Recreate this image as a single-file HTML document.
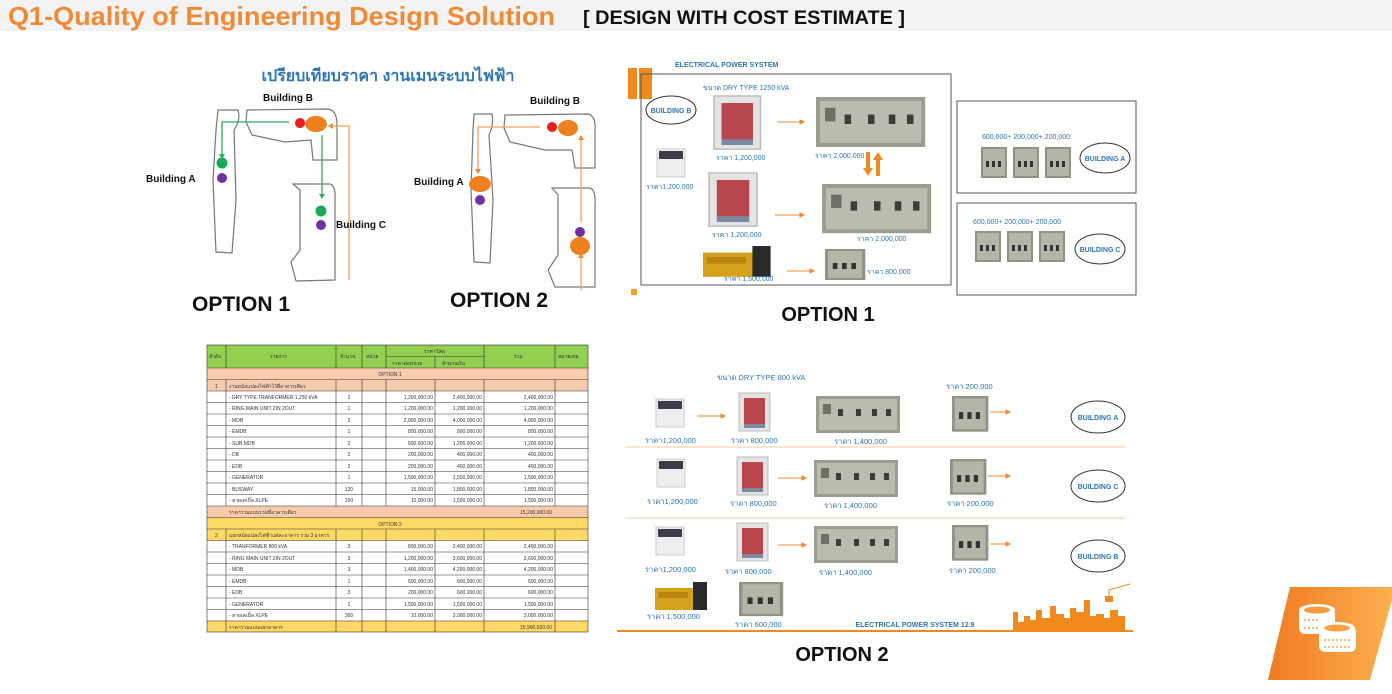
<!DOCTYPE html>
<html><head><meta charset="utf-8"><style>
html,body{margin:0;padding:0;background:#fff;}
svg{display:block;font-family:"Liberation Sans","Noto Sans CJK SC",sans-serif;}
</style></head><body>
<svg width="1392" height="694" viewBox="0 0 1392 694" xmlns="http://www.w3.org/2000/svg">
<defs>
<linearGradient id="og" x1="0" x2="1"><stop offset="0" stop-color="#f07a22"/><stop offset="1" stop-color="#fbb050"/></linearGradient>
<g id="pnl"><rect width="84" height="37" fill="#9a9e90"/><rect x="3" y="3" width="78" height="31" fill="#b9bcae"/><rect x="7" y="8" width="8" height="10" fill="#6d7064"/><rect x="22" y="13" width="5" height="7" fill="#3b3d36"/><rect x="40" y="13" width="5" height="7" fill="#3b3d36"/><rect x="56" y="13" width="5" height="7" fill="#3b3d36"/><rect x="70" y="13" width="5" height="7" fill="#3b3d36"/></g>
<g id="sp"><rect width="26" height="31" fill="#8f9385"/><rect x="2" y="2" width="22" height="27" fill="#b4b7a8"/><rect x="5" y="14" width="3" height="6" fill="#333"/><rect x="11" y="14" width="3" height="6" fill="#333"/><rect x="17" y="14" width="3" height="6" fill="#333"/></g>
<g id="tr"><rect width="31" height="38" fill="#e4e4e4" stroke="#bbb"/><rect x="5" y="5" width="21" height="26" fill="#b9454d"/><rect x="5" y="31" width="21" height="4" fill="#7b8aa0"/></g>
<g id="rmu"><rect width="28" height="28" fill="#eceef0" stroke="#ccc"/><rect x="2" y="2" width="24" height="8" fill="#3a3d48"/></g>
<g id="gen"><rect x="0" y="6" width="40" height="22" fill="#d6a11a"/><rect x="38" y="0" width="14" height="28" fill="#2a2a2a"/><rect x="3" y="10" width="30" height="6" fill="#b88512"/></g>
</defs>
<!-- header -->
<rect x="0" y="0" width="1392" height="31" fill="#f3f3f3"/>
<text x="8" y="25" font-size="26" font-weight="bold" fill="#f08a36" textLength="547" lengthAdjust="spacingAndGlyphs">Q1-Quality of Engineering Design Solution</text>
<text x="583" y="24" font-size="19" font-weight="bold" fill="#111" textLength="322" lengthAdjust="spacingAndGlyphs">[ DESIGN WITH COST ESTIMATE ]</text>

<!-- Thai title -->
<text x="388" y="81" font-size="16" font-weight="bold" fill="#2e75b6" text-anchor="middle">เปรียบเทียบราคา งานเมนระบบไฟฟ้า</text>

<!-- option 1 map -->
<g fill="none" stroke="#777" stroke-width="1.2">
<path d="M218 110 L238 110 Q241 120 234 130 L236 200 L232 253 L216 252 L213 180 L216 130 Z"/>
<path d="M247 110 L328 109 Q337 110 337 125 L337 160 L313 160 L311 140 L285 142 L252 135 L246 122 Z"/>
<path d="M293 184 L330 184 Q336 186 335 200 L335 280 L296 281 L291 262 L300 250 L300 190 Z"/>
</g>
<g stroke="#2eaa5a" stroke-width="1.3" fill="none"><path d="M289 122 H222 V154"/><path d="M322 135 V194"/></g>
<path d="M219 154 L225 154 L222 159 Z M319 194 L325 194 L322 199 Z" fill="#2eaa5a"/>
<path d="M349 280 V126 H333" stroke="#f5a05a" stroke-width="1.3" fill="none"/>
<path d="M333 123 L333 129 L328 126 Z" fill="#f08a36"/>
<circle cx="300" cy="123" r="5" fill="#ee1c1c"/><ellipse cx="316" cy="124" rx="11" ry="8" fill="#f0801e"/>
<circle cx="222" cy="163" r="5.5" fill="#1aaa55"/><circle cx="222" cy="178" r="5" fill="#7030a0"/>
<circle cx="321" cy="211" r="5.5" fill="#1aaa55"/><circle cx="321" cy="225" r="5" fill="#7030a0"/>
<g font-size="10" font-weight="bold" fill="#111">
<text x="263" y="101">Building B</text><text x="146" y="182">Building A</text><text x="336" y="228">Building C</text>
<text x="530" y="104">Building B</text><text x="414" y="185">Building A</text></g>
<text x="192" y="311" font-size="21" font-weight="bold" fill="#111">OPTION 1</text>

<!-- option 2 map -->
<g fill="none" stroke="#777" stroke-width="1.2">
<path d="M474 114 L492 114 Q494 125 489 135 L493 200 L490 263 L474 262 L471 190 L473 130 Z"/>
<path d="M505 115 L588 114 Q596 116 595 130 L595 168 L575 168 L572 150 L545 150 L510 142 L504 128 Z"/>
<path d="M552 188 L590 188 Q596 190 595 205 L595 287 L555 287 L548 270 L558 255 L558 195 Z"/>
</g>
<g stroke="#f5a05a" stroke-width="1.3" fill="none"><path d="M540 127 H478 V169"/><path d="M581 290 V258"/><path d="M581 222 V140"/></g>
<path d="M475 169 L481 169 L478 174 Z M578 258 L584 258 L581 253 Z M578 140 L584 140 L581 135 Z" fill="#f08a36"/>
<circle cx="552" cy="127" r="5" fill="#ee1c1c"/><ellipse cx="568" cy="128" rx="10" ry="8" fill="#f0801e"/>
<ellipse cx="480" cy="184" rx="11" ry="8" fill="#f0801e"/><circle cx="480" cy="200" r="5" fill="#7030a0"/>
<circle cx="580" cy="232" r="5" fill="#7030a0"/><ellipse cx="580" cy="246" rx="10" ry="9" fill="#f0801e"/>
<text x="450" y="307" font-size="21" font-weight="bold" fill="#111">OPTION 2</text>

<!-- option 1 right panel -->
<text x="675" y="67" font-size="7" font-weight="bold" fill="#2e75b6">ELECTRICAL POWER SYSTEM</text>
<rect x="628" y="68" width="9" height="31" fill="#f08a1e"/><rect x="639" y="68" width="13" height="31" fill="#f08a1e"/>
<rect x="641" y="74" width="310" height="211" fill="none" stroke="#555" stroke-width="1"/>
<rect x="957" y="101" width="179" height="92" fill="none" stroke="#555"/>
<rect x="957" y="203" width="179" height="92" fill="none" stroke="#555"/>
<ellipse cx="671" cy="110" rx="25" ry="14" fill="#fff" stroke="#333"/>
<text x="671" y="113" font-size="7" font-weight="bold" fill="#2e75b6" text-anchor="middle">BUILDING B</text>
<g transform="translate(714,96) scale(1.5,1.4)"><use href="#tr"/></g>
<g transform="translate(709,173) scale(1.55,1.4)"><use href="#tr"/></g>
<g transform="translate(816,97) scale(1.3,1.35)"><use href="#pnl"/></g>
<g transform="translate(822,184) scale(1.3,1.33)"><use href="#pnl"/></g>
<g transform="translate(657,149)"><use href="#rmu"/></g>
<g transform="translate(703,246) scale(1.3,1.1)"><use href="#gen"/></g>
<g transform="translate(825,249) scale(1.55,1)"><use href="#sp"/></g>
<g font-size="7" fill="#2e75b6">
<text x="703" y="90">ขนาด DRY TYPE 1250 kVA</text>
<text x="716" y="160">ราคา 1,200,000</text><text x="815" y="158">ราคา 2,000,000</text>
<text x="646" y="189">ราคา1,200,000</text><text x="712" y="237">ราคา 1,200,000</text><text x="857" y="241">ราคา 2,000,000</text>
<text x="724" y="281">ราคา 1,500,000</text><text x="867" y="274">ราคา 800,000</text>
<text x="982" y="139">600,000+ 200,000+ 200,000</text><text x="973" y="224">600,000+ 200,000+ 200,000</text>
</g>
<use href="#sp" x="981" y="147"/><use href="#sp" x="1013" y="147"/><use href="#sp" x="1045" y="147"/>
<use href="#sp" x="975" y="231"/><use href="#sp" x="1007" y="231"/><use href="#sp" x="1039" y="231"/>
<ellipse cx="1105" cy="158" rx="25" ry="15" fill="#fff" stroke="#333"/>
<text x="1105" y="161" font-size="7" font-weight="bold" fill="#2e75b6" text-anchor="middle">BUILDING A</text>
<ellipse cx="1100" cy="249" rx="25" ry="15" fill="#fff" stroke="#333"/>
<text x="1100" y="252" font-size="7" font-weight="bold" fill="#2e75b6" text-anchor="middle">BUILDING C</text>
<g stroke="#f08a36" stroke-width="1" fill="#f08a36">
<path d="M777 122 H800"/><path d="M800 120 L804 122 L800 124 Z"/>
<path d="M775 215 H800"/><path d="M800 213 L804 215 L800 217 Z"/>
<path d="M787 271 H810"/><path d="M810 269 L814 271 L810 273 Z"/>
</g>
<path d="M866 152 V168 H863 L868 176 L873 168 H870 V152 Z M876 176 V160 H873 L878 152 L883 160 H880 V176 Z" fill="#f08a1e"/>
<rect x="631" y="289" width="6" height="6" fill="#f0a030"/>
<text x="828" y="321" font-size="20" font-weight="bold" fill="#111" text-anchor="middle">OPTION 1</text>

<!-- table -->
<g font-size="5" fill="#333">
<rect x="207" y="345" width="381" height="23" fill="#92d050"/>
<rect x="207" y="368" width="381" height="23" fill="#f8cbad"/>
<rect x="207" y="506" width="381" height="11.5" fill="#f8cbad"/>
<rect x="207" y="517.5" width="381" height="23" fill="#ffd966"/>
<rect x="207" y="620.5" width="381" height="11.5" fill="#ffd966"/>
<g stroke="#333" stroke-width="0.6" fill="none">
<rect x="207" y="345" width="381" height="287"/>
<path d="M386 356.5 H484 M207 368 H588 M207 379.5 H588 M207 391 H588 M207 402.5 H588 M207 414 H588 M207 425.5 H588 M207 437 H588 M207 448.5 H588 M207 460 H588 M207 471.5 H588 M207 483 H588 M207 494.5 H588 M207 506 H588 M207 517.5 H588 M207 529 H588 M207 540.5 H588 M207 552 H588 M207 563.5 H588 M207 575 H588 M207 586.5 H588 M207 598 H588 M207 609.5 H588 M207 621 H588"/>
<path d="M226 345 V368 M336 345 V368 M362 345 V368 M386 345 V368 M435 356.5 V368 M484 345 V368 M555 345 V368"/>
<path d="M226 379.5 V506 M336 379.5 V506 M362 379.5 V506 M386 379.5 V506 M435 379.5 V506 M484 379.5 V506 M555 379.5 V506"/>
<path d="M226 529 V632 M336 529 V632 M362 529 V632 M386 529 V632 M435 529 V632 M484 529 V632 M555 529 V632"/>
</g>
<text x="209" y="358">ลำดับ</text><text x="270" y="358">รายการ</text><text x="340" y="358">จำนวน</text><text x="366" y="358">หน่วย</text><text x="424" y="353">ราคาวัสดุ</text><text x="392" y="365">ราคาต่อหน่วย</text><text x="442" y="365">จำนวนเงิน</text><text x="514" y="358">รวม</text><text x="558" y="358">หมายเหตุ</text>
<text x="390" y="376" text-anchor="middle">OPTION 1</text>
<text x="215" y="388">1</text><text x="229" y="388">งานหม้อแปลงไฟฟ้าไว้ที่อาคารเดียว</text>
<text x="229" y="399">- DRY TYPE TRANFORMER 1,250 kVA</text><text x="229" y="410">- RING MAIN UNIT 2IN 2OUT</text><text x="229" y="422">- MDB</text><text x="229" y="433">- EMDB</text><text x="229" y="445">- SUB MDB</text><text x="229" y="456">- DB</text><text x="229" y="468">- EDB</text><text x="229" y="479">- GENERATOR</text><text x="229" y="491">- BUSWAY</text><text x="229" y="502">- สายเคเบิ้ล XLPE</text>
<text x="229" y="514">ราคารวมแบบรวมที่อาคารเดียว</text><text x="520" y="514">15,200,000.00</text>
<text x="390" y="526" text-anchor="middle">OPTION 2</text>
<text x="215" y="537">2</text><text x="229" y="537">แยกหม้อแปลงไฟฟ้าแต่ละอาคาร รวม 3 อาคาร</text>
<text x="229" y="548">- TRANFORMER 800 kVA</text><text x="229" y="560">- RING MAIN UNIT 2IN 2OUT</text><text x="229" y="571">- MDB</text><text x="229" y="583">- EMDB</text><text x="229" y="594">- EDB</text><text x="229" y="606">- GENERATOR</text><text x="229" y="617">- สายเคเบิ้ล XLPE</text>
<text x="229" y="629">ราคารวมแบบแยกอาคาร</text><text x="520" y="629">15,900,000.00</text>
<g text-anchor="end">
<text x="433" y="399">1,200,000.00</text><text x="482" y="399">2,400,000.00</text><text x="553" y="399">2,400,000.00</text>
<text x="433" y="410">1,200,000.00</text><text x="482" y="410">1,200,000.00</text><text x="553" y="410">1,200,000.00</text>
<text x="433" y="422">2,000,000.00</text><text x="482" y="422">4,000,000.00</text><text x="553" y="422">4,000,000.00</text>
<text x="433" y="433">800,000.00</text><text x="482" y="433">800,000.00</text><text x="553" y="433">800,000.00</text>
<text x="433" y="445">600,000.00</text><text x="482" y="445">1,200,000.00</text><text x="553" y="445">1,200,000.00</text>
<text x="433" y="456">200,000.00</text><text x="482" y="456">400,000.00</text><text x="553" y="456">400,000.00</text>
<text x="433" y="468">200,000.00</text><text x="482" y="468">400,000.00</text><text x="553" y="468">400,000.00</text>
<text x="433" y="479">1,500,000.00</text><text x="482" y="479">1,500,000.00</text><text x="553" y="479">1,500,000.00</text>
<text x="433" y="491">15,000.00</text><text x="482" y="491">1,800,000.00</text><text x="553" y="491">1,800,000.00</text>
<text x="433" y="502">10,000.00</text><text x="482" y="502">1,500,000.00</text><text x="553" y="502">1,500,000.00</text>
<text x="433" y="548">800,000.00</text><text x="482" y="548">2,400,000.00</text><text x="553" y="548">2,400,000.00</text>
<text x="433" y="560">1,200,000.00</text><text x="482" y="560">3,600,000.00</text><text x="553" y="560">3,600,000.00</text>
<text x="433" y="571">1,400,000.00</text><text x="482" y="571">4,200,000.00</text><text x="553" y="571">4,200,000.00</text>
<text x="433" y="583">600,000.00</text><text x="482" y="583">600,000.00</text><text x="553" y="583">600,000.00</text>
<text x="433" y="594">200,000.00</text><text x="482" y="594">600,000.00</text><text x="553" y="594">600,000.00</text>
<text x="433" y="606">1,500,000.00</text><text x="482" y="606">1,500,000.00</text><text x="553" y="606">1,500,000.00</text>
<text x="433" y="617">10,000.00</text><text x="482" y="617">3,000,000.00</text><text x="553" y="617">3,000,000.00</text>
</g>
<g text-anchor="middle">
<text x="349" y="399">2</text><text x="349" y="410">1</text><text x="349" y="422">2</text><text x="349" y="433">1</text><text x="349" y="445">2</text><text x="349" y="456">2</text><text x="349" y="468">2</text><text x="349" y="479">1</text><text x="349" y="491">120</text><text x="349" y="502">150</text>
<text x="349" y="548">3</text><text x="349" y="560">3</text><text x="349" y="571">3</text><text x="349" y="583">1</text><text x="349" y="594">3</text><text x="349" y="606">1</text><text x="349" y="617">300</text>
</g>
</g>

<!-- option 2 right -->
<g font-size="7.5" fill="#2e75b6">
<text x="717" y="380">ขนาด DRY TYPE 800 kVA</text>
<text x="645" y="443">ราคา1,200,000</text><text x="731" y="443">ราคา 800,000</text><text x="834" y="444">ราคา 1,400,000</text><text x="946" y="389">ราคา 200,000</text>
<text x="647" y="504">ราคา1,200,000</text><text x="730" y="506">ราคา 800,000</text><text x="824" y="508">ราคา 1,400,000</text><text x="947" y="506">ราคา 200,000</text>
<text x="645" y="572">ราคา1,200,000</text><text x="725" y="574">ราคา 800,000</text><text x="819" y="575">ราคา 1,400,000</text><text x="949" y="573">ราคา 200,000</text>
<text x="647" y="619">ราคา 1,500,000</text><text x="735" y="627">ราคา 600,000</text>
</g>
<use href="#rmu" x="656" y="399"/><use href="#rmu" x="657" y="459"/><use href="#rmu" x="656" y="527"/>
<use href="#tr" x="739" y="393"/><use href="#tr" x="737" y="457"/><use href="#tr" x="737" y="523"/>
<use href="#pnl" x="816" y="396"/><use href="#pnl" x="814" y="460"/><use href="#pnl" x="814" y="526"/>
<g transform="translate(952,396) scale(1.4,1.15)"><use href="#sp"/></g>
<g transform="translate(950,459) scale(1.4,1.15)"><use href="#sp"/></g>
<g transform="translate(952,525) scale(1.4,1.15)"><use href="#sp"/></g>
<g transform="translate(739,582) scale(1.7,1.1)"><use href="#sp"/></g>
<use href="#gen" x="655" y="582"/>
<g stroke="#f08a36" stroke-width="1" fill="#f08a36">
<path d="M697 416 H721"/><path d="M721 414 L725 416 L721 418 Z"/>
<path d="M778 478 H802"/><path d="M802 476 L806 478 L802 480 Z"/>
<path d="M778 545 H802"/><path d="M802 543 L806 545 L802 547 Z"/>
<path d="M990 412 H1006"/><path d="M1006 410 L1010 412 L1006 414 Z"/>
<path d="M988 476 H1006"/><path d="M1006 474 L1010 476 L1006 478 Z"/>
<path d="M990 544 H1006"/><path d="M1006 542 L1010 544 L1006 546 Z"/>
</g>
<path d="M625 447 H1125 M625 518 H1125" stroke="#f8c8a0" stroke-width="1"/>
<g font-size="7" font-weight="bold" fill="#2e75b6" text-anchor="middle">
<ellipse cx="1098" cy="417" rx="27" ry="16" fill="#fff" stroke="#333"/><text x="1098" y="420">BUILDING A</text>
<ellipse cx="1098" cy="486" rx="27" ry="16" fill="#fff" stroke="#333"/><text x="1098" y="489">BUILDING C</text>
<ellipse cx="1098" cy="556" rx="27" ry="16" fill="#fff" stroke="#333"/><text x="1098" y="559">BUILDING B</text>
<text x="915" y="627">ELECTRICAL POWER SYSTEM 12.9</text>
</g>
<path d="M617 631 H1133" stroke="#f08a1e" stroke-width="2"/>
<path d="M1013 631 V612 H1018 V622 H1024 V616 H1030 V620 H1036 V610 H1042 V618 H1050 V606 H1056 V614 H1064 V618 H1070 V608 H1076 V612 H1084 V600 H1090 V616 H1096 V614 H1104 V618 H1110 V610 H1118 V616 H1125 V631 Z" fill="#f08a1e"/>
<rect x="1105" y="596" width="8" height="6" fill="#f08a1e"/><path d="M1109 596 V590 L1130 584" stroke="#f08a1e" fill="none"/>
<text x="842" y="661" font-size="20" font-weight="bold" fill="#111" text-anchor="middle">OPTION 2</text>

<!-- coin icon -->
<path d="M1290 587 L1392 587 L1392 600 L1370 680 L1268 680 Z" fill="url(#og)"/>
<g fill="#fff">
<rect x="1299" y="608" width="36" height="26" rx="6"/>
<ellipse cx="1317" cy="610" rx="18" ry="6" fill="#fff"/>
<ellipse cx="1317" cy="610" rx="13" ry="3.5" fill="#f59a3e"/>
<rect x="1319" y="626" width="37" height="26" rx="6"/>
<ellipse cx="1337" cy="628" rx="18" ry="6" fill="#fff"/>
<ellipse cx="1337" cy="628" rx="13" ry="3.5" fill="#f7a348"/>
</g>
<path d="M1304 620 H1318 M1304 628 H1318 M1324 640 H1350 M1324 647 H1350" stroke="#f6a04a" stroke-width="1.5" stroke-dasharray="2 2"/>
</svg>
</body></html>
